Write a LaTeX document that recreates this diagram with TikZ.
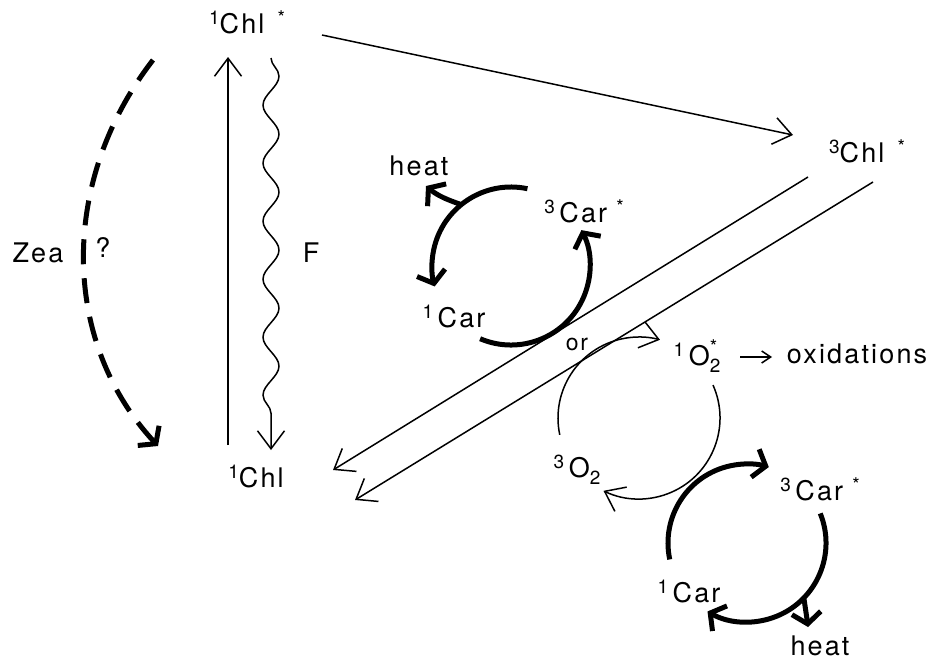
\documentclass[tikz,border=0pt]{standalone}
\usepackage{fontspec}
\setmainfont{TeX Gyre Heros}[LetterSpace=8]
\usetikzlibrary{arrows.meta,decorations.pathmorphing,calc}
\newcommand\upp[1]{\raisebox{0.32em}{\fontsize{19}{19}\selectfont #1}}
\newcommand\dnn[1]{\raisebox{-0.28em}{\fontsize{19}{19}\selectfont #1}}
\begin{document}
\begin{tikzpicture}[x=1pt,y=-1pt,
  lbl/.style={font=\fontsize{27}{31}\selectfont, inner sep=0pt, anchor=base},
  thinln/.style={line width=1.5pt},
  thinhead/.style={-{Straight Barb[length=18pt,width=27pt]}},
  smallhead/.style={-{Straight Barb[length=9pt,width=12pt]}},
  fatln/.style={line width=5pt},
  fathead/.style={-{Straight Barb[length=11pt,width=29pt]}},
]
\useasboundingbox (0,0) rectangle (941,667);
% labels
\node[lbl] (chlsA) at (247,33) {\upp{1}Chl\hspace{13pt}\upp{*}};
\node[lbl] (chlT) at (867,162) {\upp{3}Chl\hspace{13pt}\upp{*}};
\node[lbl] (chlG) at (256,487) {\upp{1}Chl};
\node[lbl] (F) at (311,262) {F};
\node[lbl] (zea) at (38,262) {Zea};
\node[lbl] (q) at (103,257) {?};
\node[lbl] (heatA) at (419,175) {heat};
\node[lbl] (carTA) at (584,222) {\upp{3}\,Car\hspace{9pt}\upp{*}};
\node[lbl] (carGA) at (454,327) {\upp{1}\,Car};
\node[lbl,font=\fontsize{23}{26}\selectfont] (or) at (577,350) {or};
\node[lbl] (oS) at (697,365) {\upp{1}\,O\rlap{\raisebox{0.42em}{\fontsize{19}{19}\selectfont *}}\dnn{2}};
\node[lbl] (oxid) at (857,363) {oxidations};
\node[lbl] (oT) at (577,477) {\upp{3}\,O\dnn{2}};
\node[lbl] (carTB) at (820,500) {\upp{3}\,Car\hspace{9pt}\upp{*}};
\node[lbl] (carGB) at (689,602) {\upp{1}\,Car};
\node[lbl] (heatB) at (820,655) {heat};
% coordinates
\coordinate (exA) at (322,35);
\coordinate (exB) at (793,135);
\coordinate (l1a) at (808,177);
\coordinate (l1b) at (333,470);
\coordinate (l2a) at (873,182);
\coordinate (l2b) at (355,500);
\coordinate (vA) at (228,445);
\coordinate (vB) at (228,57);
\coordinate (wA) at (271,58);
\coordinate (wB) at (271,450);
\coordinate (dA) at (153,60);
\coordinate (dB) at (158,446);
\coordinate (oxA) at (740,357);
\coordinate (oxB) at (772,357);
\coordinate (cA) at (511,266);
\coordinate (cO) at (639,418);
\coordinate (cB) at (747,543);
% chlorophyll transitions
\draw[thinln,thinhead] (exA) -- (exB);
\draw[thinln,thinhead] (l1a) -- (l1b);
\draw[thinln,thinhead] (l2a) -- (l2b);
\draw[thinln,thinhead] (vA) -- (vB);
\draw[thinln,thinhead,decorate,decoration={snake,segment length=58pt,amplitude=8pt,post length=20pt}] (wA) -- (wB);
\draw[fatln,fathead,dash pattern=on 25pt off 14pt] (dA) .. controls (60,180) and (60,340) .. (dB);
% upper carotenoid cycle
\draw[fatln,fathead] (cA) ++(-78:79) arc[start angle=-78,end angle=-195,radius=79];
\draw[fatln,fathead] (cA) ++(-247:79) arc[start angle=-247,end angle=-387,radius=79];
\draw[fatln,fathead] (cA) ++(-129:79) .. controls (448,200) and (438,196) .. (426,186);
% oxygen cycle
\draw[thinln,thinhead] (cO) ++(-192:81) arc[start angle=-192,end angle=-75,radius=81];
\draw[thinln,thinhead] (cO) ++(-24:81) arc[start angle=-24,end angle=116,radius=81];
\draw[thinln,smallhead] (oxA) -- (oxB);
% lower carotenoid cycle
\draw[fatln,fathead] (cB) ++(-192:79) arc[start angle=-192,end angle=-74,radius=79];
\draw[fatln,fathead] (cB) ++(-22:79) arc[start angle=-22,end angle=120,radius=79];
\draw[fatln,fathead] (cB) ++(44:79) .. controls (806,610) .. (808,627);
\end{tikzpicture}
\end{document}
